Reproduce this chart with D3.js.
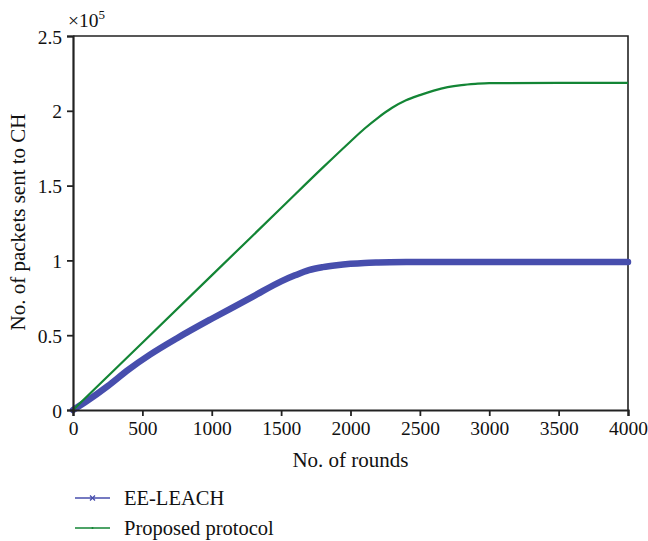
<!DOCTYPE html>
<html>
<head>
<meta charset="utf-8">
<script src="https://cdn.jsdelivr.net/npm/d3@7"></script>
<style>
  html, body { margin: 0; padding: 0; background: #fff; }
  svg text { font-family: "Liberation Serif", "DejaVu Serif", serif; fill: #111; }
</style>
</head>
<body>
<svg id="chart" width="648" height="541"></svg>
<script>
// Cumulative packets sent to cluster heads (values in units of 1e5)
const leachRounds = [0, 100, 250, 400, 555, 750, 1000, 1200, 1300, 1500, 1600, 1700, 1800, 1900, 2000, 2100, 2200, 2400, 2600, 3000, 3500, 4000];
const leachValues = [0, 0.06, 0.16, 0.27, 0.37, 0.48, 0.61, 0.71, 0.76, 0.86, 0.90, 0.935, 0.955, 0.968, 0.977, 0.983, 0.986, 0.989, 0.99, 0.99, 0.99, 0.99];

const proposedRounds = [0, 500, 1000, 1500, 1800, 2000, 2100, 2200, 2300, 2400, 2500, 2600, 2700, 2800, 2900, 3000, 3500, 4000];
const proposedValues = [0, 0.45, 0.90, 1.35, 1.62, 1.795, 1.88, 1.955, 2.02, 2.07, 2.105, 2.135, 2.158, 2.172, 2.18, 2.185, 2.186, 2.186];

const xTicks = [0, 500, 1000, 1500, 2000, 2500, 3000, 3500, 4000];
const yTicks = [0, 0.5, 1, 1.5, 2, 2.5];
const seriesNames = ["EE-LEACH", "Proposed protocol"];
const seriesColors = ["#474ead", "#138535"];

const svg = d3.select("#chart");
const plot = { left: 73, right: 628, top: 36, bottom: 410 };

const x = d3.scaleLinear().domain([0, 4000]).range([plot.left, plot.right]);
const y = d3.scaleLinear().domain([0, 2.5]).range([plot.bottom, plot.top]);

// frame (top and right edges)
svg.append("path")
  .attr("d", `M${plot.left},${plot.top}H${plot.right}V${plot.bottom}`)
  .attr("fill", "none").attr("stroke", "#222").attr("stroke-width", 1.6);

const line = d3.line().x(d => x(d[0])).y(d => y(d[1])).curve(d3.curveMonotoneX);

// EE-LEACH: dense markers form a thick band
svg.append("path")
  .datum(d3.zip(leachRounds, leachValues))
  .attr("d", line)
  .attr("fill", "none")
  .attr("stroke", seriesColors[0])
  .attr("stroke-width", 6.5)
  .attr("stroke-linecap", "round")
  .attr("stroke-linejoin", "round");

svg.append("path")
  .datum(d3.zip(proposedRounds, proposedValues))
  .attr("d", line)
  .attr("fill", "none")
  .attr("stroke", seriesColors[1])
  .attr("stroke-width", 2.2);

// axes
const xAxis = svg.append("g")
  .attr("transform", `translate(0,${plot.bottom})`)
  .call(d3.axisBottom(x).tickValues(xTicks).tickSize(6).tickPadding(5).tickFormat(d3.format("d")));
const yAxis = svg.append("g")
  .attr("transform", `translate(${plot.left},0)`)
  .call(d3.axisLeft(y).tickValues(yTicks).tickSize(6).tickPadding(5).tickFormat(d => d));

[xAxis, yAxis].forEach(g => {
  g.select(".domain").attr("stroke", "#222").attr("stroke-width", 2.2);
  g.selectAll(".tick line").attr("stroke", "#222").attr("stroke-width", 1.8);
  g.selectAll(".tick text")
    .attr("font-family", "Liberation Serif, DejaVu Serif, serif")
    .attr("font-size", 19.5).attr("fill", "#111");
});
yAxis.selectAll(".tick text").attr("dy", "0.36em");

// exponent label
const exp = svg.append("text").attr("x", 68).attr("y", 27).attr("font-size", 19.5);
exp.append("tspan").text("×10");
exp.append("tspan").attr("font-size", 13).attr("dy", -8).text("5");

// axis titles
svg.append("text")
  .attr("x", (plot.left + plot.right) / 2).attr("y", 467)
  .attr("text-anchor", "middle").attr("font-size", 21)
  .text("No. of rounds");
svg.append("text")
  .attr("transform", "translate(25,222) rotate(-90)")
  .attr("text-anchor", "middle").attr("font-size", 21)
  .text("No. of packets sent to CH");

// legend
const legend = svg.append("g");
seriesNames.forEach((name, i) => {
  const ly = 498 + i * 30;
  legend.append("line")
    .attr("x1", 75).attr("x2", 110).attr("y1", ly).attr("y2", ly)
    .attr("stroke", seriesColors[i]).attr("stroke-width", 1.6);
  if (i === 0) {
    legend.append("path")
      .attr("d", `M${90},${ly - 2.5}l5,5M${90},${ly + 2.5}l5,-5`)
      .attr("stroke", seriesColors[i]).attr("stroke-width", 1.3);
  } else {
    legend.append("circle").attr("cx", 92.5).attr("cy", ly).attr("r", 1)
      .attr("fill", seriesColors[i]);
  }
  legend.append("text")
    .attr("x", 124).attr("y", ly + 7).attr("font-size", 20.5)
    .text(name);
});
</script>
</body>
</html>
